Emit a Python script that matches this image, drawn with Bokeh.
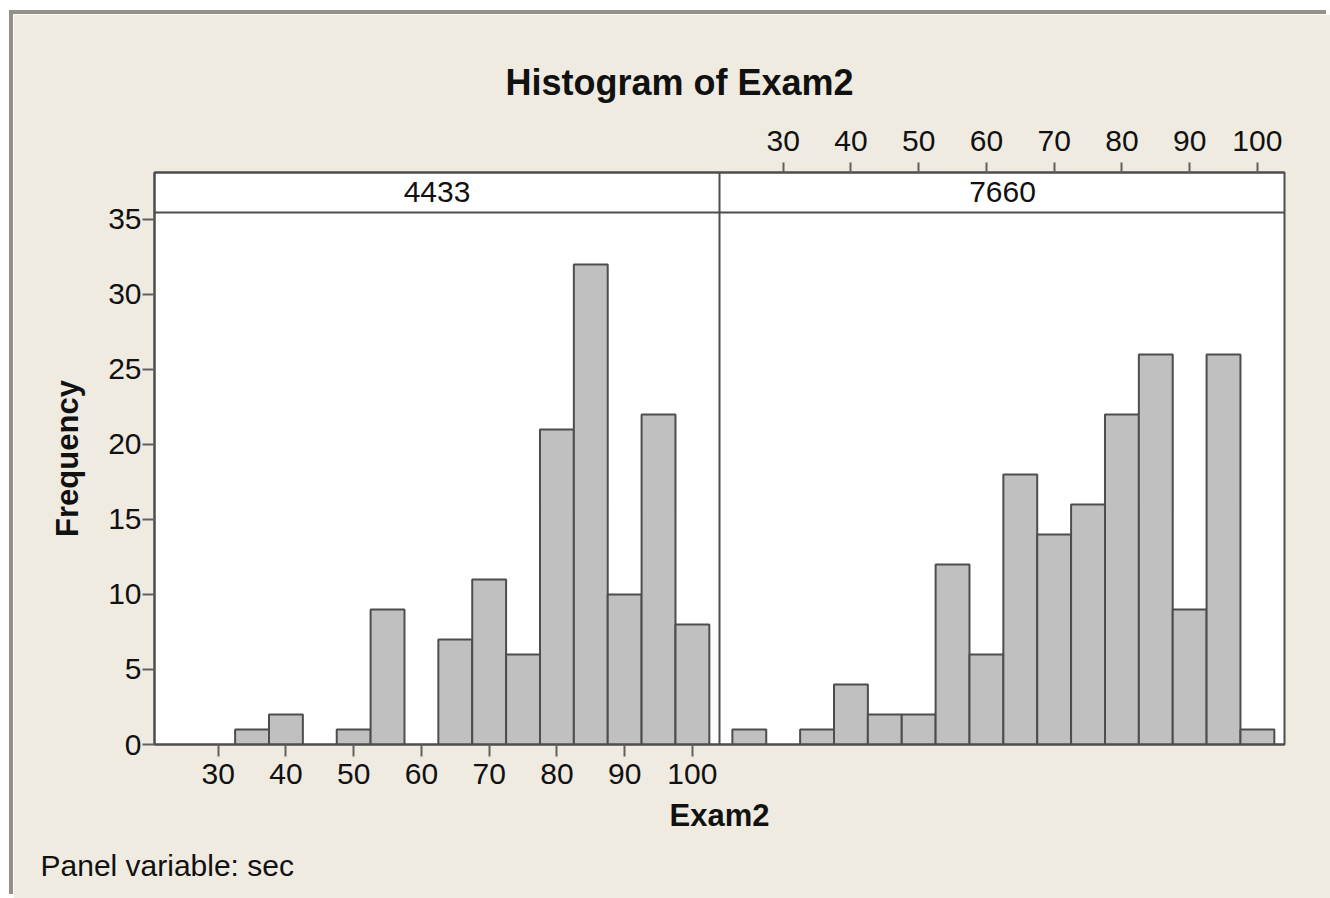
from bokeh.plotting import figure
from bokeh.models import Range1d, LinearAxis, FixedTicker, Span, Label, ColumnDataSource, Title
from bokeh.embed import file_html
from bokeh.resources import INLINE

# ---------------- data ----------------
title_text = "Histogram of Exam2"
x_label = "Exam2"
y_label = "Frequency"
footnote = "Panel variable: sec"
panels = ["4433", "7660"]
bin_centers = [25, 30, 35, 40, 45, 50, 55, 60, 65, 70, 75, 80, 85, 90, 95, 100]
bin_width = 5
counts_4433 = [0, 0, 1, 2, 0, 1, 9, 0, 7, 11, 6, 21, 32, 10, 22, 8]
counts_7660 = [1, 0, 1, 4, 2, 2, 12, 6, 18, 14, 16, 22, 26, 9, 26, 1]
x_ticks = [30, 40, 50, 60, 70, 80, 90, 100]
y_ticks = [0, 5, 10, 15, 20, 25, 30, 35]

# ---------------- styling ----------------
BG = "#EFEBE1"
DARK = "#4d4d4d"
TICK = "#606060"
BAR_FILL = "#C0C0C0"
FONT = "Liberation Sans"
TXT = "#111111"

x_lo, x_hi = 20.6, 104.0          # x extent of one panel
span_units = x_hi - x_lo
y_top = 38.13                     # includes the strip area
strip_bottom = 35.47

W, H = 1317, 884
p = figure(width=W, height=H, output_backend="svg", toolbar_location=None,
           x_range=Range1d(x_lo, x_hi + span_units), y_range=Range1d(0, y_top),
           min_border_left=141, min_border_right=46, min_border_top=158, min_border_bottom=154)
p.extra_x_ranges = {"right": Range1d(x_lo - span_units, x_hi)}
p.styles = {"box-shadow": "-4px -4px 0px 0px #929089",
            "margin-top": "14px", "margin-left": "13px"}

p.background_fill_color = "white"
p.border_fill_color = BG
p.outline_line_color = DARK
p.outline_line_width = 2
p.xgrid.visible = False
p.ygrid.visible = False

def bars(counts):
    sel = [i for i, c in enumerate(counts) if c > 0]
    return ColumnDataSource(dict(
        left=[bin_centers[i] - bin_width / 2 for i in sel],
        right=[bin_centers[i] + bin_width / 2 for i in sel],
        top=[counts[i] for i in sel],
    ))

p.quad(left="left", right="right", top="top", bottom=0, source=bars(counts_4433),
       fill_color=BAR_FILL, line_color=DARK, line_width=2)
p.quad(left="left", right="right", top="top", bottom=0, source=bars(counts_7660),
       fill_color=BAR_FILL, line_color=DARK, line_width=2, x_range_name="right")

# strip line and panel divider
p.add_layout(Span(location=strip_bottom, dimension="width", line_color=DARK, line_width=2))
p.add_layout(Span(location=x_hi, dimension="height", line_color=DARK, line_width=2))

def style_axis(ax, tick_out):
    ax.major_tick_in = 0
    ax.major_tick_out = tick_out
    ax.minor_tick_line_color = None
    ax.major_tick_line_color = TICK
    ax.major_tick_line_width = 2
    ax.axis_line_color = DARK
    ax.axis_line_width = 2
    ax.major_label_text_font = FONT
    ax.major_label_text_font_size = "30px"
    ax.major_label_text_color = TXT
    ax.axis_label_text_font = FONT
    ax.axis_label_text_font_size = "31px"
    ax.axis_label_text_font_style = "bold"
    ax.axis_label_text_color = TXT

# bottom axis (left panel)
xa = p.xaxis[0]
xa.ticker = FixedTicker(ticks=x_ticks)
style_axis(xa, 12)
xa.major_label_standoff = 7
xa.axis_label = x_label
xa.axis_label_standoff = 11

# left axis
ya = p.yaxis[0]
ya.ticker = FixedTicker(ticks=y_ticks)
style_axis(ya, 12)
ya.major_label_standoff = 1
ya.axis_label = y_label
ya.axis_label_standoff = 20

# top axis (right panel)
ta = LinearAxis(x_range_name="right", ticker=FixedTicker(ticks=x_ticks))
style_axis(ta, 10)
ta.major_label_standoff = 12
p.add_layout(ta, "above")

# title
p.title.text = title_text
p.title.align = "left"
p.title.offset = 351
p.title.text_font = FONT
p.title.text_font_size = "36px"
p.title.text_font_style = "bold"
p.title.text_color = TXT
p.title.standoff = 49

# footnote
p.add_layout(Title(text=footnote, align="left", offset=-114, standoff=23,
                   text_font=FONT, text_font_size="30px", text_font_style="normal",
                   text_color=TXT), "below")

# panel strip labels
panel_centers_px = [282.5, 848]
for name, cx in zip(panels, panel_centers_px):
    p.add_layout(Label(x=cx, y=553, x_units="screen", y_units="screen", text=name,
                       text_font=FONT, text_font_size="30px", text_color=TXT,
                       text_align="center", text_baseline="middle"))

open("out.html", "w").write(file_html(p, INLINE))
